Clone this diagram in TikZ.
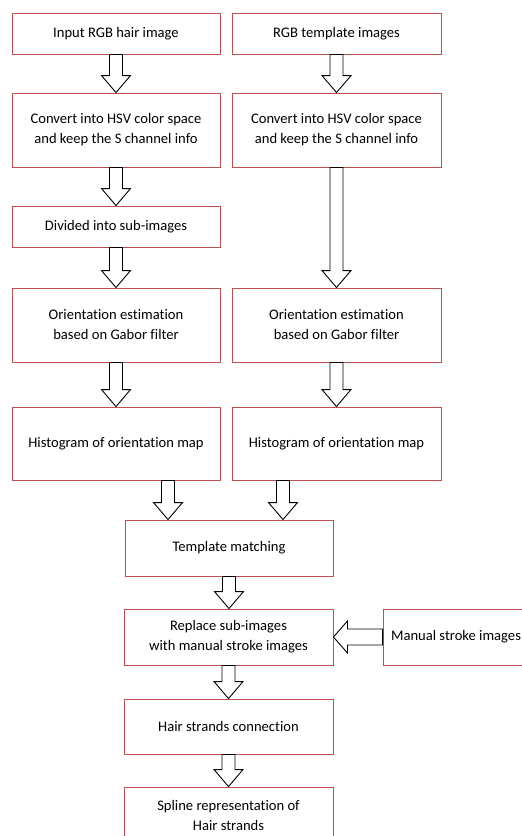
\documentclass[tikz,border=0pt]{standalone}
\usepackage{fontspec}
\setmainfont[Ligatures=NoCommon]{Carlito}
\usetikzlibrary{calc}
\definecolor{boxred}{RGB}{192,80,77}
\tikzset{
  flowbox/.style={draw=boxred, line width=0.9pt, fill=white, align=center,
    font=\fontsize{14.6}{20}\selectfont, inner sep=0pt},
  blockdown/.style={draw=black, line width=0.9pt, fill=white,
    to path={let \p1=(\tikztostart), \p2=(\tikztotarget) in
      (\x1-6.5pt,\y1) -- (\x1+6.5pt,\y1) -- (\x1+6.5pt,\y2+17pt) -- (\x1+14.5pt,\y2+17pt)
      -- (\x1,\y2) -- (\x1-14.5pt,\y2+17pt) -- (\x1-6.5pt,\y2+17pt) -- cycle}},
  blockleft/.style={draw=black, line width=0.9pt, fill=white,
    to path={let \p1=(\tikztostart), \p2=(\tikztotarget) in
      (\x1,\y1+8pt) -- (\x1,\y1-8pt) -- (\x2+14pt,\y1-8pt) -- (\x2+14pt,\y1-16pt)
      -- (\x2,\y1) -- (\x2+14pt,\y1+16pt) -- (\x2+14pt,\y1+8pt) -- cycle}}
}
\newcommand{\fbx}[6]{% name, x1, y1, x2, y2, text
  \node[flowbox, minimum width=#4pt-#2pt, minimum height=#5pt-#3pt] (#1)
    at ({(#2+#4)/2},{(#3+#5)/2}) {#6};}
\begin{document}
\begin{tikzpicture}[x=1pt,y=-1pt]
\useasboundingbox (0,0) rectangle (522,836);
\fill[white] (0,0) rectangle (522,836);
\fbx{in}{12}{13}{220}{54}{Input RGB hair image}
\fbx{rgbT}{232}{13}{441}{54}{RGB template images}
\fbx{hsvL}{12}{93}{220}{167}{Convert into HSV color space\\and keep the S channel info}
\fbx{hsvR}{232}{93}{441}{167}{Convert into HSV color space\\and keep the S channel info}
\fbx{div}{12}{206}{220}{247}{Divided into sub-images}
\fbx{oriL}{12}{288}{220}{362}{Orientation estimation\\based on Gabor filter}
\fbx{oriR}{232}{288}{441}{362}{Orientation estimation\\based on Gabor filter}
\fbx{histL}{12}{407}{220}{480}{Histogram of orientation map}
\fbx{histR}{232}{407}{441}{480}{Histogram of orientation map}
\fbx{tm}{125}{520}{333}{576}{Template matching}
\fbx{rep}{124}{609}{333}{665}{Replace sub-images\\with manual stroke images}
\fbx{man}{383}{609}{529}{665}{Manual stroke images}
\fbx{hair}{124}{699}{333}{754}{Hair strands connection}
\fbx{spl}{124}{787}{333}{843}{Spline representation of\\Hair strands}
\path[blockdown] (in.south) to (hsvL.north);
\path[blockdown] (rgbT.south) to (hsvR.north);
\path[blockdown] (hsvL.south) to (div.north);
\path[blockdown] (div.south) to (oriL.north);
\path[blockdown] (hsvR.south) to (oriR.north);
\path[blockdown] (oriL.south) to (histL.north);
\path[blockdown] (oriR.south) to (histR.north);
\path[blockdown] ([xshift=52pt]histL.south) to (tm.north);
\path[blockdown] ([xshift=-53.5pt]histR.south) to (tm.north);
\path[blockdown] (tm.south) to (rep.north);
\path[blockleft] (man.west) to (rep.east);
\path[blockdown] (rep.south) to (hair.north);
\path[blockdown] (hair.south) to (spl.north);
\end{tikzpicture}
\end{document}
